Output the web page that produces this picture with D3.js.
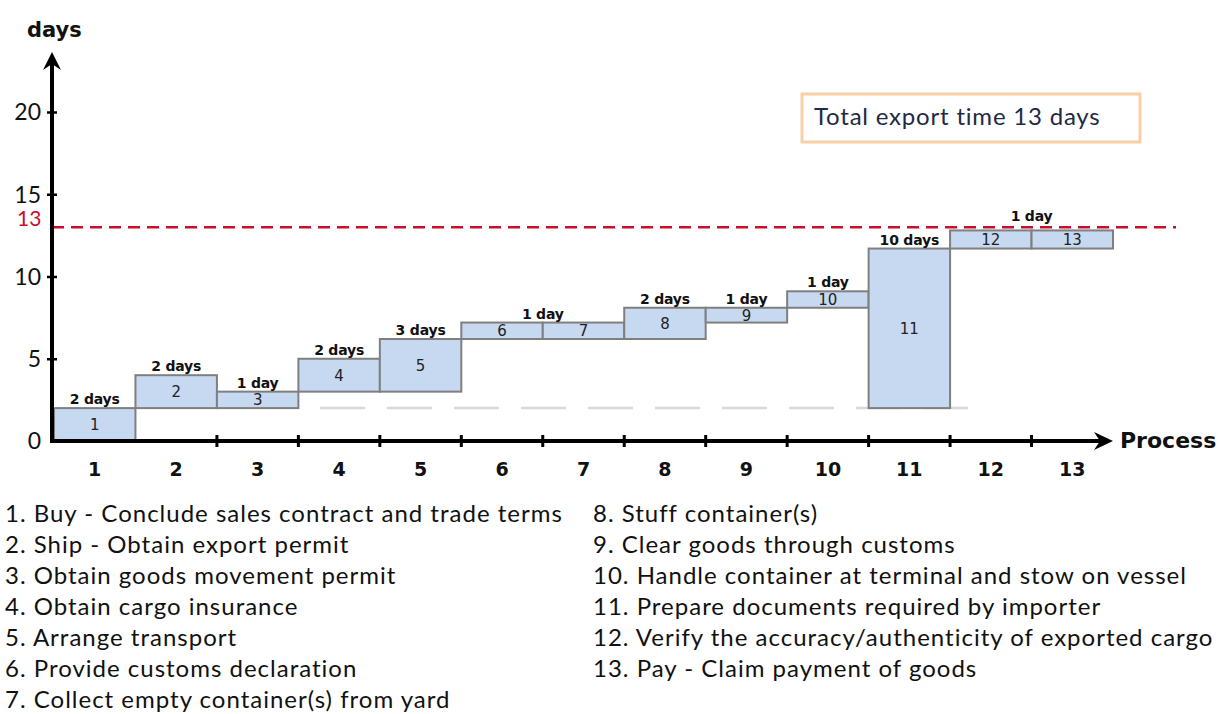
<!DOCTYPE html>
<html>
<head>
<meta charset="utf-8">
<script src="https://cdn.jsdelivr.net/npm/d3@7"></script>
<style>
  body { margin: 0; background: #fff; }
  svg { display: block; }
</style>
</head>
<body>
<script>
// process steps and their start / end (days)
var processes = ['1','2','3','4','5','6','7','8','9','10','11','12','13'];
var startDays = [0, 2, 2, 3, 3, 6.2, 6.2, 6.2, 7.2, 8.1, 2, 11.7, 11.7];
var endDays   = [2, 4, 3, 5, 6.2, 7.2, 7.2, 8.1, 8.1, 9.1, 11.7, 12.8, 12.8];
// duration labels, placed over a process (or between two)
var durLabels = [
  {at: '1', text: '2 days'}, {at: '2', text: '2 days'}, {at: '3', text: '1 day'},
  {at: '4', text: '2 days'}, {at: '5', text: '3 days'}, {at: '6|7', text: '1 day'},
  {at: '8', text: '2 days'}, {at: '9', text: '1 day'}, {at: '10', text: '1 day'},
  {at: '11', text: '10 days'}, {at: '12|13', text: '1 day'}
];
var yTicks = [0, 5, 10, 15, 20];
var totalDays = 13;
var baseDays = 2;
var descLeft = [
  '1. Buy - Conclude sales contract and trade terms',
  '2. Ship - Obtain export permit',
  '3. Obtain goods movement permit',
  '4. Obtain cargo insurance',
  '5. Arrange transport',
  '6. Provide customs declaration',
  '7. Collect empty container(s) from yard'
];
var descRight = [
  '8. Stuff container(s)',
  '9. Clear goods through customs',
  '10. Handle container at terminal and stow on vessel',
  '11. Prepare documents required by importer',
  '12. Verify the accuracy/authenticity of exported cargo',
  '13. Pay - Claim payment of goods'
];

var data = processes.map(function(p, i) {
  return {name: p, start: startDays[i], end: endDays[i]};
});

var W = 1220, H = 714;
var svg = d3.select('body').append('svg').attr('width', W).attr('height', H);

var x = d3.scaleBand().domain(processes).range([54, 1113]).padding(0);
var y = d3.scaleLinear().domain([0, 20]).range([441, 112]);
var x0 = 52, y0 = y(0);

var labelFont = 'DejaVu Sans, Verdana, sans-serif';
var textFont = 'Lato, Carlito, sans-serif';

// gray dashed guide at 2 days
svg.append('line')
  .attr('x1', 320).attr('x2', 972)
  .attr('y1', y(baseDays)).attr('y2', y(baseDays))
  .attr('stroke', '#d9d9d9').attr('stroke-width', 2.5)
  .attr('stroke-dasharray', '45,22');

// bars
svg.selectAll('rect.bar')
  .data(data)
  .enter()
  .append('rect')
  .attr('class', 'bar')
  .attr('x', function(d) { return x(d.name); })
  .attr('width', x.bandwidth())
  .attr('y', function(d) { return y(d.end); })
  .attr('height', function(d) { return y(d.start) - y(d.end); })
  .attr('fill', '#c6d9f1')
  .attr('stroke', '#7f7f7f')
  .attr('stroke-width', 2);

svg.selectAll('text.barnum')
  .data(data)
  .enter()
  .append('text')
  .attr('class', 'barnum')
  .attr('x', function(d) { return x(d.name) + x.bandwidth() / 2; })
  .attr('y', function(d) { return (y(d.start) + y(d.end)) / 2; })
  .attr('dy', '0.36em')
  .attr('text-anchor', 'middle')
  .style('font-family', labelFont)
  .style('font-size', '15px')
  .attr('fill', '#222')
  .text(function(d) { return d.name; });

// red total line
svg.append('line')
  .attr('x1', x0).attr('x2', 1176)
  .attr('y1', y(totalDays)).attr('y2', y(totalDays))
  .attr('stroke', '#c8102e').attr('stroke-width', 2.5)
  .attr('stroke-dasharray', '12,7');
svg.append('text')
  .attr('x', 17).attr('y', y(totalDays) - 1)
  .style('font-family', textFont).style('font-size', '21px')
  .attr('fill', '#c8102e')
  .text(totalDays);

// duration labels
svg.selectAll('text.dur')
  .data(durLabels)
  .enter()
  .append('text')
  .attr('class', 'dur')
  .attr('x', function(d) {
    var parts = d.at.split('|');
    if (parts.length > 1) return x(parts[1]);
    return x(d.at) + x.bandwidth() / 2;
  })
  .attr('y', function(d) {
    var parts = d.at.split('|');
    var top = d3.min(parts, function(p) { return y(endDays[processes.indexOf(p)]); });
    return top - (parts.length > 1 && top < 240 ? 9 : 4);
  })
  .attr('text-anchor', 'middle')
  .style('font-family', labelFont)
  .style('font-size', '14px')
  .style('font-weight', 'bold')
  .style('letter-spacing', '-0.2px')
  .attr('fill', '#111')
  .text(function(d) { return d.text; });

// axes
var yAxis = d3.axisLeft(y).tickValues(yTicks.slice(1)).tickSize(5).tickFormat('');
svg.append('g').attr('transform', 'translate(' + x0 + ',0)').call(yAxis)
  .call(function(g) {
    g.select('.domain').remove();
    g.selectAll('.tick line').attr('x1', -5).attr('x2', 5)
      .attr('stroke', '#000').attr('stroke-width', 2.5);
  });

svg.selectAll('text.ytick')
  .data(yTicks)
  .enter()
  .append('text')
  .attr('class', 'ytick')
  .attr('x', 41)
  .attr('y', function(d) { return y(d); })
  .attr('dy', '0.36em')
  .attr('text-anchor', 'end')
  .style('font-family', textFont)
  .style('font-size', '23px')
  .attr('fill', '#111')
  .text(function(d) { return d; });

var xTickPos = processes.slice(2);
svg.selectAll('line.xtick')
  .data(xTickPos)
  .enter()
  .append('line')
  .attr('class', 'xtick')
  .attr('x1', function(d) { return x(d); })
  .attr('x2', function(d) { return x(d); })
  .attr('y1', y0 - 6).attr('y2', y0 + 6)
  .attr('stroke', '#000').attr('stroke-width', 3);

svg.selectAll('text.xlab')
  .data(processes)
  .enter()
  .append('text')
  .attr('class', 'xlab')
  .attr('x', function(d) { return x(d) + x.bandwidth() / 2; })
  .attr('y', 476)
  .attr('text-anchor', 'middle')
  .style('font-family', labelFont)
  .style('font-size', '19px')
  .style('font-weight', 'bold')
  .attr('fill', '#111')
  .text(function(d) { return d; });

// axis lines with arrows
svg.append('line')
  .attr('x1', x0).attr('x2', x0).attr('y1', y0 + 2).attr('y2', 58)
  .attr('stroke', '#000').attr('stroke-width', 4);
svg.append('path')
  .attr('d', 'M' + (x0 - 9) + ',70 L' + x0 + ',52 L' + (x0 + 9) + ',70 L' + x0 + ',64 Z')
  .attr('fill', '#000');
svg.append('line')
  .attr('x1', x0 - 2).attr('x2', 1106).attr('y1', y0).attr('y2', y0)
  .attr('stroke', '#000').attr('stroke-width', 4);
svg.append('path')
  .attr('d', 'M1094,' + (y0 - 9) + ' L1113,' + y0 + ' L1094,' + (y0 + 9) + ' L1100,' + y0 + ' Z')
  .attr('fill', '#000');

svg.append('text')
  .attr('x', 27).attr('y', 37)
  .style('font-family', labelFont).style('font-size', '21px').style('font-weight', 'bold')
  .attr('fill', '#111').text('days');
svg.append('text')
  .attr('x', 1120).attr('y', 448)
  .style('font-family', labelFont).style('font-size', '22px').style('font-weight', 'bold')
  .attr('fill', '#111').text('Process');

// total box
svg.append('rect')
  .attr('x', 802).attr('y', 94).attr('width', 338).attr('height', 48)
  .attr('fill', '#fff').attr('stroke', '#f8cfa6').attr('stroke-width', 3);
svg.append('text')
  .attr('x', 814).attr('y', 125)
  .style('font-family', textFont).style('font-size', '24px')
  .style('letter-spacing', '0.8px')
  .attr('fill', '#1f2a44')
  .text('Total export time 13 days');

// descriptions
svg.selectAll('text.descL')
  .data(descLeft)
  .enter()
  .append('text')
  .attr('class', 'descL')
  .attr('x', 5)
  .attr('y', function(d, i) { return 522 + i * 31; })
  .style('font-family', textFont).style('font-size', '24px')
  .style('letter-spacing', '1px')
  .attr('fill', '#111')
  .text(function(d) { return d; });
svg.selectAll('text.descR')
  .data(descRight)
  .enter()
  .append('text')
  .attr('class', 'descR')
  .attr('x', 593)
  .attr('y', function(d, i) { return 522 + i * 31; })
  .style('font-family', textFont).style('font-size', '24px')
  .style('letter-spacing', '1px')
  .attr('fill', '#111')
  .text(function(d) { return d; });
</script>
</body>
</html>
